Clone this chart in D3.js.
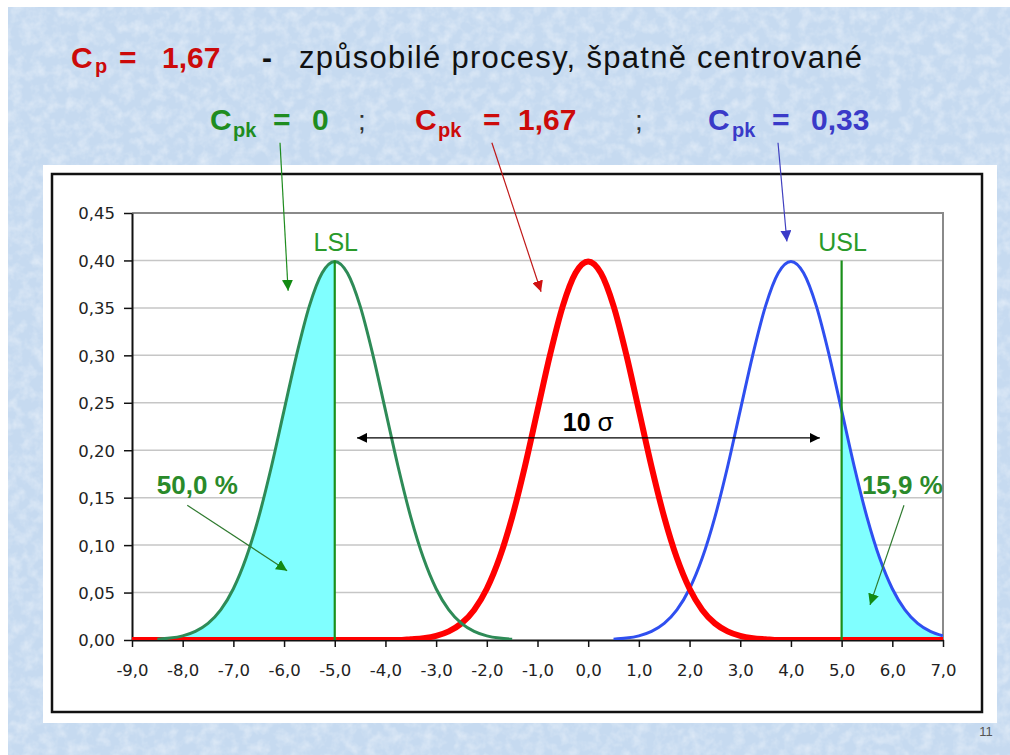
<!DOCTYPE html>
<html>
<head>
<meta charset="utf-8">
<script src="https://cdn.jsdelivr.net/npm/d3@7"></script>
<style>
  body { margin: 0; background: #fff; }
  svg { display: block; }
</style>
</head>
<body>
<svg id="slide"></svg>
<script>
// ---- data ----
const xValues = [
  -9.0, -8.75, -8.5, -8.25, -8.0, -7.75, -7.5, -7.25, -7.0, -6.75, -6.5, -6.25, -6.0,
  -5.75, -5.5, -5.25, -5.0, -4.75, -4.5, -4.25, -4.0, -3.75, -3.5, -3.25, -3.0,
  -2.75, -2.5, -2.25, -2.0, -1.75, -1.5, -1.25, -1.0, -0.75, -0.5, -0.25, 0.0,
  0.25, 0.5, 0.75, 1.0, 1.25, 1.5, 1.75, 2.0, 2.25, 2.5, 2.75, 3.0, 3.25, 3.5,
  3.75, 4.0, 4.25, 4.5, 4.75, 5.0, 5.25, 5.5, 5.75, 6.0, 6.25, 6.5, 6.75, 7.0
];
// green process (Cpk = 0)
const greenValues = [
  null, null, 0.0009, 0.0020, 0.0044, 0.0091, 0.0175, 0.0317, 0.0540, 0.0863, 0.1295, 0.1826, 0.2420,
  0.3011, 0.3521, 0.3867, 0.3989, 0.3867, 0.3521, 0.3011, 0.2420, 0.1826, 0.1295, 0.0863, 0.0540,
  0.0317, 0.0175, 0.0091, 0.0044, 0.0020, 0.0009, null, null, null, null, null, null,
  null, null, null, null, null, null, null, null, null, null, null, null, null, null,
  null, null, null, null, null, null, null, null, null, null, null, null, null, null
];
// red process (Cpk = 1,67)
const redValues = [
  0, 0, 0, 0, 0, 0, 0, 0, 0, 0, 0, 0, 0,
  0, 0, 0, 0, 0, 0, 0, 0, 0, 0.0009, 0.0020, 0.0044,
  0.0091, 0.0175, 0.0317, 0.0540, 0.0863, 0.1295, 0.1826, 0.2420, 0.3011, 0.3521, 0.3867, 0.3989,
  0.3867, 0.3521, 0.3011, 0.2420, 0.1826, 0.1295, 0.0863, 0.0540, 0.0317, 0.0175, 0.0091, 0.0044, 0.0020, 0.0009,
  0, 0, 0, 0, 0, 0, 0, 0, 0, 0, 0, 0, 0, 0
];
// blue process (Cpk = 0,33)
const blueValues = [
  null, null, null, null, null, null, null, null, null, null, null, null, null,
  null, null, null, null, null, null, null, null, null, null, null, null,
  null, null, null, null, null, null, null, null, null, null, null, null,
  null, 0.0009, 0.0020, 0.0044, 0.0091, 0.0175, 0.0317, 0.0540, 0.0863, 0.1295, 0.1826, 0.2420, 0.3011, 0.3521,
  0.3867, 0.3989, 0.3867, 0.3521, 0.3011, 0.2420, 0.1826, 0.1295, 0.0863, 0.0540, 0.0317, 0.0175, 0.0091, 0.0044
];
const lsl = -5, usl = 5, limitHeight = 0.40;

const xTicks = [-9, -8, -7, -6, -5, -4, -3, -2, -1, 0, 1, 2, 3, 4, 5, 6, 7];
const xTickLabels = ["-9,0", "-8,0", "-7,0", "-6,0", "-5,0", "-4,0", "-3,0", "-2,0", "-1,0",
  "0,0", "1,0", "2,0", "3,0", "4,0", "5,0", "6,0", "7,0"];
const yTicks = [0, 0.05, 0.10, 0.15, 0.20, 0.25, 0.30, 0.35, 0.40, 0.45];
const yTickLabels = ["0,00", "0,05", "0,10", "0,15", "0,20", "0,25", "0,30", "0,35", "0,40", "0,45"];

// ---- setup ----
const width = 1010, height = 755;
const svg = d3.select("#slide").attr("width", width).attr("height", height);
const defs = svg.append("defs");

// slide background with a fine paper texture
const tex = defs.append("filter").attr("id", "paper")
  .attr("x", 0).attr("y", 0).attr("width", "100%").attr("height", "100%");
tex.append("feTurbulence").attr("type", "fractalNoise")
  .attr("baseFrequency", "0.09").attr("numOctaves", 3).attr("seed", 7).attr("result", "noise");
tex.append("feColorMatrix").attr("in", "noise").attr("type", "matrix")
  .attr("values", "0 0 0 0 1  0 0 0 0 1  0 0 0 0 1  0 0 0 1.3 -0.5");

svg.append("rect").attr("width", width).attr("height", height).attr("fill", "#fff");
svg.append("rect").attr("x", 8).attr("y", 7).attr("width", width - 8).attr("height", height - 7)
  .attr("fill", "#c6daf0");
svg.append("rect").attr("x", 8).attr("y", 7).attr("width", width - 8).attr("height", height - 7)
  .attr("filter", "url(#paper)").attr("opacity", 0.6);

// titles
const tFont = "'Liberation Sans', Arial, sans-serif";
const red = "#cc0a0a", green = "#1f8c1f", blue = "#3a3ac8";

function title(x, y, txt, color, size, bold) {
  return svg.append("text").attr("x", x).attr("y", y).text(txt)
    .attr("fill", color).attr("font-family", tFont)
    .attr("font-size", size).attr("font-weight", bold ? "bold" : "normal");
}
title(71, 68, "C", red, 30, true);
title(95, 73, "p", red, 20, true);
title(119, 68, "=", red, 30, true);
title(162, 68, "1,67", red, 30, true);
title(262, 68, "-", "#111", 30, true);
title(299, 68, "způsobilé procesy, špatně centrované", "#111", 31, false)
  .attr("textLength", 563).attr("lengthAdjust", "spacing");

title(210, 130, "C", green, 30, true);
title(233, 137, "pk", green, 20, true);
title(273, 130, "=", green, 30, true);
title(312, 130, "0", green, 30, true);
title(358, 130, ";", "#333", 28, false);
title(415, 130, "C", red, 30, true);
title(438, 137, "pk", red, 20, true);
title(483, 130, "=", red, 30, true);
title(518, 130, "1,67", red, 30, true);
title(635, 130, ";", "#333", 28, false);
title(708, 130, "C", blue, 30, true);
title(732, 137, "pk", blue, 20, true);
title(772, 130, "=", blue, 30, true);
title(811, 130, "0,33", blue, 30, true);

// chart box
svg.append("rect").attr("x", 43).attr("y", 165).attr("width", 954).attr("height", 558).attr("fill", "#fff");
svg.append("rect").attr("x", 52).attr("y", 174).attr("width", 930).attr("height", 538)
  .attr("fill", "none").attr("stroke", "#111").attr("stroke-width", 2.5);

// page number
svg.append("text").attr("x", 986).attr("y", 736).attr("text-anchor", "middle")
  .attr("font-family", tFont).attr("font-size", 13).attr("fill", "#555").text("11");

// ---- scales ----
const xScale = d3.scaleLinear().domain([-9, 7]).range([132, 943]);
const yScale = d3.scaleLinear().domain([0, 0.45]).range([640, 213]);

defs.append("clipPath").attr("id", "plotClip").append("rect")
  .attr("x", xScale(-9)).attr("y", yScale(0.45))
  .attr("width", xScale(7) - xScale(-9)).attr("height", yScale(0) - yScale(0.45));

const axisFont = "'DejaVu Sans', Verdana, sans-serif";

// gridlines
svg.append("g").selectAll("line").data(yTicks.slice(1, -1)).join("line")
  .attr("x1", xScale(-9)).attr("x2", xScale(7))
  .attr("y1", d => yScale(d)).attr("y2", d => yScale(d))
  .attr("stroke", "#c6c6c6").attr("stroke-width", 1.5);
// plot border top/right
svg.append("path")
  .attr("d", `M${xScale(-9)},${yScale(0.45)}H${xScale(7)}V${yScale(0)}`)
  .attr("fill", "none").attr("stroke", "#8a8a8a").attr("stroke-width", 2);

// axes
const xAxis = svg.append("g")
  .attr("transform", `translate(0,${yScale(0)})`)
  .call(d3.axisBottom(xScale).tickValues(xTicks).tickSize(7).tickSizeOuter(0)
    .tickFormat((d, i) => xTickLabels[i]));
xAxis.select(".domain").attr("stroke", "#111").attr("stroke-width", 2);
xAxis.selectAll(".tick line").attr("stroke", "#111").attr("stroke-width", 1.5);
xAxis.selectAll(".tick text").attr("y", 36).attr("dy", 0)
  .attr("font-family", axisFont).attr("font-size", 16.5).attr("fill", "#222");

const yAxis = svg.append("g")
  .attr("transform", `translate(${xScale(-9)},0)`)
  .call(d3.axisLeft(yScale).tickValues(yTicks).tickSize(8).tickSizeOuter(0)
    .tickFormat((d, i) => yTickLabels[i]));
yAxis.select(".domain").attr("stroke", "#111").attr("stroke-width", 2);
yAxis.selectAll(".tick line").attr("stroke", "#111").attr("stroke-width", 1.5);
yAxis.selectAll(".tick text").attr("x", -17).attr("dy", "0.36em")
  .attr("font-family", axisFont).attr("font-size", 16.5).attr("fill", "#222");

// ---- series ----
const plot = svg.append("g").attr("clip-path", "url(#plotClip)");
const pts = vals => xValues.map((x, i) => ({ x: x, y: vals[i] }));
const greenPts = pts(greenValues), redPts = pts(redValues), bluePts = pts(blueValues);

const line = d3.line().defined(d => d.y != null)
  .x(d => xScale(d.x)).y(d => yScale(d.y)).curve(d3.curveMonotoneX);
const area = d3.area().x(d => xScale(d.x)).y0(yScale(0)).y1(d => yScale(d.y)).curve(d3.curveMonotoneX);

// tails outside the limits
const leftTail = greenPts.filter(d => d.y != null && d.x <= lsl);
leftTail.unshift({ x: -9, y: 0 });
const rightTail = bluePts.filter(d => d.y != null && d.x >= usl);
plot.append("path").datum(leftTail).attr("d", area).attr("fill", "#80ffff");
plot.append("path").datum(rightTail).attr("d", area).attr("fill", "#80ffff");

plot.append("path").datum(bluePts).attr("d", line)
  .attr("fill", "none").attr("stroke", "#2f4ff0").attr("stroke-width", 3);
plot.append("path").datum(redPts).attr("d", line)
  .attr("fill", "none").attr("stroke", "#ff0000").attr("stroke-width", 6);
plot.append("path").datum(greenPts).attr("d", line)
  .attr("fill", "none").attr("stroke", "#2e8b57").attr("stroke-width", 3);

// LSL / USL lines
svg.append("g").selectAll("line").data([lsl, usl]).join("line")
  .attr("x1", d => xScale(d)).attr("x2", d => xScale(d))
  .attr("y1", yScale(0)).attr("y2", yScale(limitHeight))
  .attr("stroke", "#1a8f1a").attr("stroke-width", 2.2);
svg.append("g").selectAll("text").data([["LSL", lsl], ["USL", usl]]).join("text")
  .attr("x", d => xScale(d[1]) + 1).attr("y", yScale(0.41))
  .attr("text-anchor", "middle").attr("font-family", tFont).attr("font-size", 25)
  .attr("fill", "#2a9a2a").text(d => d[0]);

// ---- annotations ----
function marker(id, color, size) {
  defs.append("marker").attr("id", id)
    .attr("viewBox", "0 0 10 10").attr("refX", 10).attr("refY", 5)
    .attr("markerWidth", size).attr("markerHeight", size)
    .attr("markerUnits", "userSpaceOnUse").attr("orient", "auto-start-reverse")
    .append("path").attr("d", "M0,0L10,5L0,10Z").attr("fill", color);
}
marker("mGreen", "#128a12", 11);
marker("mRed", "#d01010", 11);
marker("mBlue", "#3a3ac8", 11);
marker("mBlack", "#000", 10);

// callout arrows, ends in data units
const calloutArrows = [
  { from: [-6.08, 0.524], to: [-5.92, 0.368], color: "#1f8c1f", m: "mGreen" },
  { from: [-1.90, 0.524], to: [-0.93, 0.367], color: "#c01818", m: "mRed" },
  { from: [3.745, 0.524], to: [3.92, 0.420], color: "#4040c0", m: "mBlue" },
  { from: [-7.91, 0.142], to: [-5.94, 0.073], color: "#2f7a2f", m: "mGreen" },
  { from: [6.23, 0.142], to: [5.56, 0.037], color: "#2f7a2f", m: "mGreen" }
];
svg.append("g").selectAll("line").data(calloutArrows).join("line")
  .attr("x1", d => xScale(d.from[0])).attr("y1", d => yScale(d.from[1]))
  .attr("x2", d => xScale(d.to[0])).attr("y2", d => yScale(d.to[1]))
  .attr("stroke", d => d.color).attr("stroke-width", 1.2)
  .attr("marker-end", d => `url(#${d.m})`);

// 10 sigma span
svg.append("line")
  .attr("x1", xScale(-4.56)).attr("x2", xScale(4.57))
  .attr("y1", yScale(0.213)).attr("y2", yScale(0.213))
  .attr("stroke", "#000").attr("stroke-width", 1.3)
  .attr("marker-start", "url(#mBlack)").attr("marker-end", "url(#mBlack)");
const sig = svg.append("text").attr("x", xScale(0)).attr("y", yScale(0.22))
  .attr("text-anchor", "middle").attr("font-family", tFont).attr("fill", "#000");
sig.append("tspan").attr("font-size", 25).attr("font-weight", "bold").text("10 ");
sig.append("tspan").attr("font-size", 26).text("σ");

// percentage labels
svg.append("g").selectAll("text").data([["50,0 %", -8.51], ["15,9 %", 5.40]]).join("text")
  .attr("x", d => xScale(d[1])).attr("y", yScale(0.154))
  .attr("font-family", tFont).attr("font-size", 26).attr("font-weight", "bold")
  .attr("fill", "#2a8a2a").text(d => d[0]);
</script>
</body>
</html>
